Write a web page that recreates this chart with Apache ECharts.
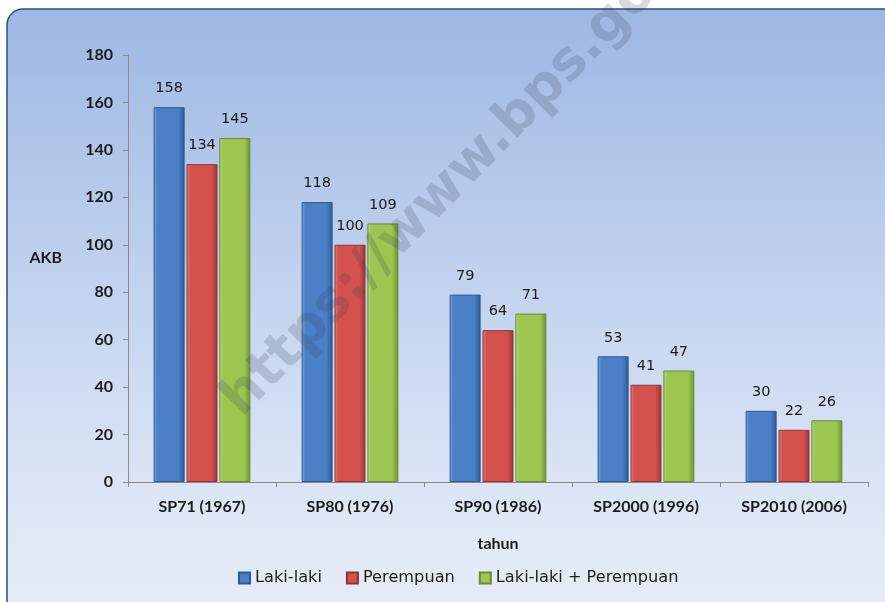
<!DOCTYPE html>
<html>
<head>
<meta charset="utf-8">
<script src="https://cdn.jsdelivr.net/npm/echarts@6/dist/echarts.min.js"></script>
<style>
html,body{margin:0;padding:0;background:#fff;}
#main{width:885px;height:602px;}
</style>
</head>
<body>
<div id="main"></div>
<script>
const categories = ['SP71 (1967)', 'SP80 (1976)', 'SP90 (1986)', 'SP2000 (1996)', 'SP2010 (2006)'];
const seriesNames = ['Laki-laki', 'Perempuan', 'Laki-laki + Perempuan'];
const lakiLaki = [158, 118, 79, 53, 30];
const perempuan = [134, 100, 64, 41, 22];
const total = [145, 109, 71, 47, 26];
const yTicks = [0, 20, 40, 60, 80, 100, 120, 140, 160, 180];

function grad(light, main, dark) {
  return {
    type: 'linear', x: 0, y: 0, x2: 1, y2: 0,
    colorStops: [
      {offset: 0, color: light},
      {offset: 0.12, color: main},
      {offset: 0.8, color: main},
      {offset: 1, color: dark}
    ]
  };
}
const colors = [
  grad('#7ba5dc', '#4b80c6', '#2c5995'),
  grad('#e88582', '#d4514e', '#963634'),
  grad('#bcdb82', '#9ec54f', '#6f9035')
];
const borders = ['#2f5a90', '#8e3533', '#6a8a33'];
const dataSets = [lakiLaki, perempuan, total];

const chart = echarts.init(document.getElementById('main'), null, {renderer: 'canvas'});
const labelFont = 'Lato';
chart.setOption({
  backgroundColor: '#ffffff',
  animation: false,
  graphic: [
    {
      type: 'rect', z: -10, silent: true,
      shape: {x: 7, y: 9, width: 900, height: 620, r: 16},
      style: {
        fill: {type: 'linear', x: 0, y: 0, x2: 0, y2: 1, colorStops: [
          {offset: 0, color: '#9db7e4'},
          {offset: 0.45, color: '#c3d3ee'},
          {offset: 0.85, color: '#e1e9f6'},
          {offset: 1, color: '#e5ecf7'}
        ]},
        stroke: '#2d4f80', lineWidth: 1.5
      }
    },
    {
      type: 'text', z: 100, silent: true,
      x: 251, y: 427, rotation: 45.5 * Math.PI / 180,
      style: {
        text: 'https://www.bps.go.id',
        font: 'bold 54px "DejaVu Sans"',
        fill: 'rgba(55,65,90,0.2)',
        textAlign: 'left', textVerticalAlign: 'bottom', textBaseline: 'alphabetic'
      }
    }
  ],
  legend: {
    data: seriesNames,
    left: 238, top: 570, padding: 0,
    icon: 'rect',
    itemWidth: 11, itemHeight: 11, itemGap: 24,
    textStyle: {fontFamily: 'DejaVu Sans', fontSize: 16.2, color: '#1e1e1e'}
  },
  grid: {left: 128, right: 17, top: 55, bottom: 120},
  xAxis: {
    type: 'category',
    data: categories,
    name: 'tahun',
    nameLocation: 'middle',
    nameGap: 54,
    nameTextStyle: {fontFamily: labelFont, fontWeight: 'bold', fontSize: 16, color: '#1a1a1a'},
    axisLine: {lineStyle: {color: '#8a8a8a', width: 1}},
    axisTick: {show: true, length: 5, lineStyle: {color: '#8a8a8a'}},
    axisLabel: {margin: 17, fontFamily: labelFont, fontWeight: 'bold', fontSize: 16, color: '#1a1a1a'}
  },
  yAxis: {
    type: 'value',
    min: 0, max: 180, interval: 20,
    name: 'AKB',
    nameLocation: 'middle',
    nameRotate: 0,
    nameGap: 66,
    nameTextStyle: {fontFamily: labelFont, fontWeight: 'bold', fontSize: 16, color: '#1a1a1a', verticalAlign: 'bottom', padding: [0, 0, 3, 0]},
    axisLine: {show: true, lineStyle: {color: '#8a8a8a', width: 1}},
    axisTick: {show: true, length: 5, lineStyle: {color: '#8a8a8a'}},
    splitLine: {show: false},
    axisLabel: {margin: 15, fontFamily: labelFont, fontWeight: 'bold', fontSize: 16, color: '#1a1a1a',
      formatter: function (v) { return yTicks.indexOf(v) >= 0 ? String(v) : ''; }}
  },
  series: seriesNames.map(function (name, i) {
    return {
      name: name,
      type: 'bar',
      data: dataSets[i],
      barWidth: 31,
      barGap: '6%',
      itemStyle: {color: colors[i], borderColor: borders[i], borderWidth: 1},
      label: {
        show: true, position: 'top', distance: 11,
        fontFamily: 'DejaVu Sans', fontSize: 14.5, color: '#1a1a1a'
      }
    };
  })
});
</script>
</body>
</html>
